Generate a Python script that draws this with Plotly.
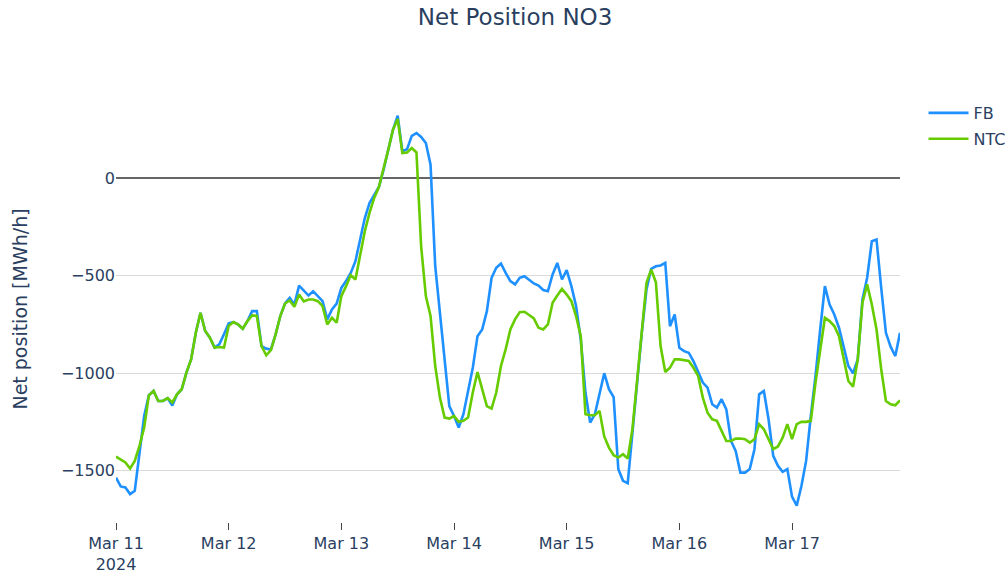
import pandas as pd
import plotly.graph_objects as go

# Hourly net position for bidding zone NO3, 11-17 March 2024
start = "2024-03-11 00:00"
hours = 168

fb = [
    -1534, -1580, -1585, -1619, -1602, -1406, -1219, -1113, -1091, -1142, -1142, -1128,
    -1165, -1108, -1082, -997, -929, -793, -690, -784, -818, -869, -852, -800,
    -745, -738, -750, -772, -733, -682, -682, -861, -874, -878, -801, -707,
    -643, -614, -648, -551, -574, -602, -580, -605, -631, -724, -673, -643,
    -563, -528, -486, -426, -315, -205, -128, -85, -46, 43, 145, 247,
    319, 136, 148, 216, 230, 210, 179, 68, -452, -690, -912, -1168,
    -1219, -1278, -1210, -1099, -972, -810, -776, -682, -511, -460, -438, -486,
    -528, -545, -511, -503, -520, -540, -551, -574, -580, -494, -435, -520,
    -472, -554, -656, -827, -1099, -1253, -1210, -1108, -1000, -1082, -1122, -1491,
    -1551, -1563, -1304, -1040, -793, -571, -465, -452, -448, -435, -759, -699,
    -870, -887, -895, -938, -989, -1048, -1074, -1159, -1176, -1133, -1185, -1347,
    -1398, -1509, -1509, -1491, -1389, -1108, -1091, -1236, -1423, -1474, -1505, -1491,
    -1632, -1678, -1578, -1449, -1219, -1014, -776, -554, -648, -699, -767, -861,
    -963, -1000, -929, -622, -511, -324, -315, -563, -793, -864, -912, -793,
]

ntc = [
    -1427, -1444, -1457, -1488, -1449, -1372, -1278, -1113, -1091, -1142, -1142, -1128,
    -1150, -1108, -1082, -997, -929, -793, -690, -784, -818, -869, -866, -869,
    -758, -738, -750, -772, -733, -704, -707, -861, -908, -881, -801, -707,
    -643, -627, -660, -597, -632, -622, -622, -631, -656, -750, -716, -741,
    -605, -554, -498, -520, -401, -273, -179, -102, -46, 43, 145, 247,
    302, 128, 131, 153, 131, -350, -605, -707, -963, -1125, -1227, -1232,
    -1219, -1249, -1244, -1227, -1099, -994, -1082, -1168, -1181, -1099, -963, -878,
    -776, -724, -687, -685, -702, -719, -767, -776, -750, -639, -602, -568,
    -597, -631, -707, -810, -1210, -1215, -1215, -1193, -1324, -1381, -1420, -1432,
    -1415, -1437, -1287, -1031, -776, -537, -469, -534, -861, -994, -972, -929,
    -929, -934, -937, -972, -1014, -1125, -1202, -1236, -1244, -1295, -1347, -1347,
    -1335, -1334, -1338, -1355, -1338, -1261, -1287, -1338, -1389, -1375, -1330, -1261,
    -1338, -1261, -1249, -1249, -1244, -1048, -869, -716, -733, -758, -810, -920,
    -1040, -1069, -929, -639, -545, -648, -776, -980, -1142, -1159, -1164, -1139,
]

times = pd.date_range(start, periods=hours, freq="h")

font_family = "DejaVu Sans"
text_color = "#2a3f5f"

fig = go.Figure()
fig.add_trace(go.Scatter(x=times, y=fb, name="FB", mode="lines", legendgroup="fb",
                         line=dict(color="#1E90FF", width=2.6)))
fig.add_trace(go.Scatter(x=times, y=ntc, name="NTC", mode="lines", legendgroup="ntc",
                         line=dict(color="#66CC00", width=2.6)))

fig.update_layout(
    template="plotly_white",
    width=1008,
    height=575,
    margin=dict(l=116, r=108, t=96, b=53, autoexpand=False),
    font=dict(family=font_family, size=16, color=text_color),
    title=dict(text="Net Position NO3", x=0.511, xref="container",
               y=1 - 17 / 575, yref="container", yanchor="middle",
               font=dict(family=font_family, size=23, color=text_color)),
    legend=dict(x=1.03, y=1, itemwidth=40, font=dict(size=16),
                traceorder="grouped", tracegroupgap=2),
    plot_bgcolor="white",
    paper_bgcolor="white",
)

fig.update_xaxes(
    showgrid=False,
    zeroline=False,
    ticks="outside",
    ticklen=7,
    tickwidth=1.3,
    tickcolor="#444444",
    dtick=86400000,
    tick0="2024-03-11",
)

fig.update_yaxes(
    title=dict(text="Net position [MWh/h]", font=dict(size=19), standoff=28),
    range=[-1762, 420],
    tickvals=[-1500, -1000, -500, 0],
    showgrid=True,
    gridcolor="#dadada",
    gridwidth=1.3,
    zeroline=True,
    zerolinecolor="#666666",
    zerolinewidth=2,
)

fig.write_html("out.html")
